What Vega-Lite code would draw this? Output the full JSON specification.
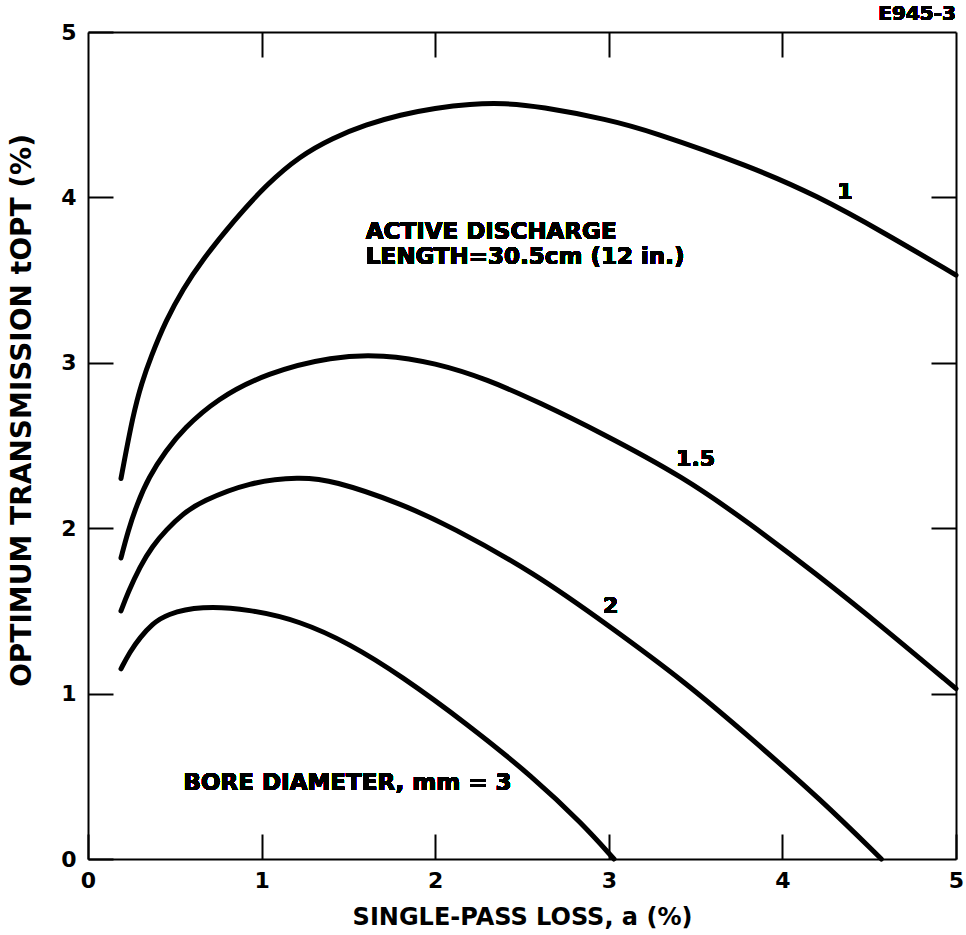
{
  "$schema": "https://vega.github.io/schema/vega-lite/v6.json",
  "width": 868,
  "height": 827,
  "autosize": "none",
  "padding": {"left": 88, "top": 32, "right": 10, "bottom": 76},
  "background": "white",
  "config": {
    "view": {"stroke": null},
    "font": "DejaVu Sans",
    "axis": {
      "domainColor": "black", "domainWidth": 2, "tickColor": "black", "tickWidth": 2,
      "tickSize": -25, "grid": false, "labelColor": "black", "labelFont": "DejaVu Sans",
      "labelFontSize": 22, "labelFontWeight": "bold", "labelFlush": false, "titleColor": "black", "titleFont": "DejaVu Sans",
      "titleFontWeight": "bold", "labelOverlap": false
    },
    "text": {"font": "DejaVu Sans", "fontWeight": "bold", "color": "black"}
  },
  "data": {
    "values": [
      {"d": "1", "x": 0.19, "y": 2.30}, {"d": "1", "x": 0.26, "y": 2.69}, {"d": "1", "x": 0.31, "y": 2.88},
      {"d": "1", "x": 0.36, "y": 3.03}, {"d": "1", "x": 0.45, "y": 3.26}, {"d": "1", "x": 0.55, "y": 3.45},
      {"d": "1", "x": 0.65, "y": 3.61}, {"d": "1", "x": 0.84, "y": 3.86}, {"d": "1", "x": 1.03, "y": 4.08},
      {"d": "1", "x": 1.22, "y": 4.25}, {"d": "1", "x": 1.41, "y": 4.36}, {"d": "1", "x": 1.60, "y": 4.44},
      {"d": "1", "x": 1.80, "y": 4.50}, {"d": "1", "x": 2.00, "y": 4.54}, {"d": "1", "x": 2.20, "y": 4.565},
      {"d": "1", "x": 2.40, "y": 4.57}, {"d": "1", "x": 2.60, "y": 4.55}, {"d": "1", "x": 3.00, "y": 4.47},
      {"d": "1", "x": 3.24, "y": 4.40}, {"d": "1", "x": 3.81, "y": 4.19}, {"d": "1", "x": 4.20, "y": 4.01},
      {"d": "1", "x": 4.58, "y": 3.79}, {"d": "1", "x": 5.00, "y": 3.53},
      {"d": "1.5", "x": 0.19, "y": 1.82}, {"d": "1.5", "x": 0.23, "y": 1.98}, {"d": "1.5", "x": 0.28, "y": 2.14},
      {"d": "1.5", "x": 0.35, "y": 2.31}, {"d": "1.5", "x": 0.45, "y": 2.47}, {"d": "1.5", "x": 0.55, "y": 2.60},
      {"d": "1.5", "x": 0.74, "y": 2.78}, {"d": "1.5", "x": 1.03, "y": 2.94}, {"d": "1.5", "x": 1.41, "y": 3.04},
      {"d": "1.5", "x": 1.70, "y": 3.05}, {"d": "1.5", "x": 2.00, "y": 3.00}, {"d": "1.5", "x": 2.30, "y": 2.90},
      {"d": "1.5", "x": 2.60, "y": 2.76}, {"d": "1.5", "x": 2.95, "y": 2.58}, {"d": "1.5", "x": 3.43, "y": 2.31},
      {"d": "1.5", "x": 3.81, "y": 2.03}, {"d": "1.5", "x": 4.20, "y": 1.72}, {"d": "1.5", "x": 4.58, "y": 1.40},
      {"d": "1.5", "x": 5.00, "y": 1.03},
      {"d": "2", "x": 0.19, "y": 1.50}, {"d": "2", "x": 0.23, "y": 1.61}, {"d": "2", "x": 0.30, "y": 1.77},
      {"d": "2", "x": 0.37, "y": 1.89}, {"d": "2", "x": 0.45, "y": 1.99}, {"d": "2", "x": 0.55, "y": 2.09},
      {"d": "2", "x": 0.65, "y": 2.16}, {"d": "2", "x": 0.93, "y": 2.28}, {"d": "2", "x": 1.22, "y": 2.31},
      {"d": "2", "x": 1.41, "y": 2.29}, {"d": "2", "x": 1.80, "y": 2.15}, {"d": "2", "x": 2.09, "y": 2.01},
      {"d": "2", "x": 2.57, "y": 1.73}, {"d": "2", "x": 3.00, "y": 1.41}, {"d": "2", "x": 3.44, "y": 1.07},
      {"d": "2", "x": 3.83, "y": 0.72}, {"d": "2", "x": 4.22, "y": 0.36}, {"d": "2", "x": 4.57, "y": 0.00},
      {"d": "3", "x": 0.19, "y": 1.15}, {"d": "3", "x": 0.24, "y": 1.25}, {"d": "3", "x": 0.30, "y": 1.34},
      {"d": "3", "x": 0.37, "y": 1.42}, {"d": "3", "x": 0.45, "y": 1.48}, {"d": "3", "x": 0.65, "y": 1.53},
      {"d": "3", "x": 0.93, "y": 1.51}, {"d": "3", "x": 1.22, "y": 1.44}, {"d": "3", "x": 1.51, "y": 1.30},
      {"d": "3", "x": 1.80, "y": 1.11}, {"d": "3", "x": 2.18, "y": 0.82}, {"d": "3", "x": 2.57, "y": 0.49},
      {"d": "3", "x": 2.85, "y": 0.21}, {"d": "3", "x": 3.03, "y": 0.00}
    ]
  },
  "resolve": {"axis": {"x": "independent", "y": "independent"}},
  "layer": [
    {
      "mark": {"type": "line", "color": "black", "strokeWidth": 5, "strokeCap": "round", "interpolate": "basis"},
      "encoding": {
        "x": {"field": "x", "type": "quantitative", "scale": {"domain": [0, 5], "nice": false},
          "axis": {"orient": "bottom", "values": [0, 1, 2, 3, 4, 5], "labelPadding": 36, "title": "SINGLE-PASS LOSS, a (%)", "titleFontSize": 24, "titleBaseline": "middle", "titleY": 58}},
        "y": {"field": "y", "type": "quantitative", "scale": {"domain": [0, 5], "nice": false},
          "axis": {"orient": "left", "values": [0, 1, 2, 3, 4, 5], "labelPadding": 37, "title": "OPTIMUM TRANSMISSION tOPT (%)", "titleFontSize": 28, "titleBaseline": "middle", "titleX": -66, "titleY": 378}},
        "detail": {"field": "d", "type": "nominal"}
      }
    },
    {
      "mark": {"type": "text", "text": "1", "fontSize": 22, "align": "center", "baseline": "middle"},
      "encoding": {
        "x": {"datum": 4.36, "type": "quantitative", "axis": {"orient": "top", "values": [1, 2, 3, 4], "labels": false, "title": null}},
        "y": {"datum": 4.03, "type": "quantitative", "axis": {"orient": "right", "values": [1, 2, 3, 4], "labels": false, "title": null}}
      }
    },
    {
      "mark": {"type": "text", "text": "1.5", "fontSize": 22, "align": "center", "baseline": "middle"},
      "encoding": {
        "x": {"datum": 3.50, "type": "quantitative", "axis": null},
        "y": {"datum": 2.42, "type": "quantitative", "axis": null}
      }
    },
    {
      "mark": {"type": "text", "text": "2", "fontSize": 22, "align": "center", "baseline": "middle"},
      "encoding": {
        "x": {"datum": 3.01, "type": "quantitative", "axis": null},
        "y": {"datum": 1.53, "type": "quantitative", "axis": null}
      }
    },
    {
      "mark": {"type": "text", "text": ["ACTIVE DISCHARGE", "LENGTH=30.5cm (12 in.)"], "fontSize": 23, "lineHeight": 25, "align": "left", "baseline": "middle"},
      "encoding": {
        "x": {"datum": 1.60, "type": "quantitative", "axis": null},
        "y": {"datum": 3.79, "type": "quantitative", "axis": null}
      }
    },
    {
      "mark": {"type": "text", "text": "BORE DIAMETER, mm = 3", "fontSize": 23, "align": "left", "baseline": "middle"},
      "encoding": {
        "x": {"datum": 0.55, "type": "quantitative", "axis": null},
        "y": {"datum": 0.46, "type": "quantitative", "axis": null}
      }
    },
    {
      "mark": {"type": "text", "text": "E945-3", "fontSize": 20, "align": "right", "baseline": "middle"},
      "encoding": {
        "x": {"datum": 5.0, "type": "quantitative", "axis": null},
        "y": {"datum": 5.11, "type": "quantitative", "axis": null}
      }
    }
  ]
}
